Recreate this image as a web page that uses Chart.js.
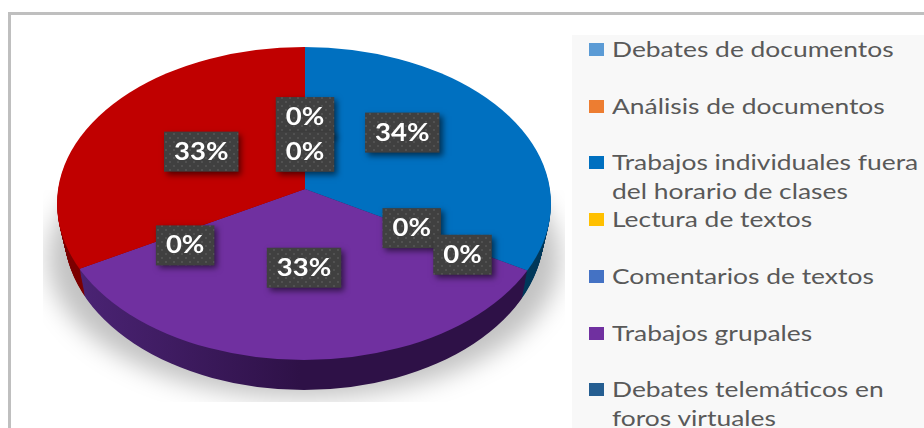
<!DOCTYPE html>
<html>
<head>
<meta charset="utf-8">
<style>
  html, body { margin: 0; padding: 0; background: #fff; width: 924px; height: 428px; overflow: hidden; }
  #frame { position: absolute; left: 8px; top: 12px; width: 1000px; height: 500px; border: 3px solid #bfbfbf; box-sizing: border-box; }
  #chart { position: absolute; left: 0; top: 0; }
  #legend { position: absolute; left: 572px; top: 35px; width: 352px; height: 393px; background: #f8f8f8; overflow: hidden;
            font-family: Lato, sans-serif; font-size: 22px; line-height: 29px; color: #595959; }
  .item { position: absolute; left: 17px; }
  .box { position: absolute; left: 0; top: 8px; width: 15px; height: 13px; }
  .txt { position: absolute; left: 23px; top: -1px; width: 262px; transform: scaleX(1.2); transform-origin: left top; }
</style>
</head>
<body>
<div id="frame"></div>
<canvas id="chart" width="924" height="428"></canvas>
<div id="legend"></div>
<script src="https://cdn.jsdelivr.net/npm/chart.js@4"></script>
<script>
// last category is cut off in the source image, only its red slice shows
const categories = [
    'Debates de documentos',
    'Análisis de documentos',
    'Trabajos individuales fuera del horario de clases',
    'Lectura de textos',
    'Comentarios de textos',
    'Trabajos grupales',
    'Debates telemáticos en foros virtuales',
    ''
];
const values = [0, 0, 33.5, 0, 0, 33.25, 0, 33.25];
const colors = ['#5b9bd5', '#ed7d31', '#0070c0', '#ffc000', '#4472c4', '#7030a0', '#255e91', '#c00000'];
const sideColors = ['#3a6a94', '#a4561f', '#003a5c', '#b08500', '#2f4f88', '#2e1147', '#163a5a', '#7d0000'];

// top face and rim of the tilted pie
const pie = { apexX: 305, apexY: 189, tilt: 0.62, zoom: 1.5,
              topCy: 203.5, topRx: 247, topRy: 156.5,
              baseCy: 232, baseRx: 240, baseRy: 158, depth: 29 };

// distance along the slice direction, plus small vertical nudge
const labelDist = [116, 60, 112, 124, 183, 127, 138, 120];
const labelNudge = [0, 0, -22, 0, 8, 0, 14, 0];

function placeFace(ctx, chart, t) {
    const arc = chart.getDatasetMeta(0).data[0];
    const rx = pie.topRx + (pie.baseRx - pie.topRx) * t;
    const ry = pie.topRy + (pie.baseRy - pie.topRy) * t;
    const cy = pie.topCy + (pie.baseCy - pie.topCy) * t;
    ctx.beginPath();
    ctx.ellipse(pie.apexX - 1, cy, rx, ry, 0, 0, Math.PI * 2);
    ctx.clip();
    ctx.translate(pie.apexX, pie.apexY + pie.depth * t);
    ctx.scale(pie.zoom, pie.zoom * pie.tilt);
    ctx.translate(-arc.x, -arc.y);
}

const tiltedPie = {
    id: 'tiltedPie',
    beforeDatasetDraw(chart) {
        const ctx = chart.ctx;
        const arcs = chart.getDatasetMeta(0).data;
        const cx = arcs[0].x;

        // soft shadow under the pie
        ctx.save();
        ctx.beginPath();
        ctx.rect(43, 190, 522, 212);
        ctx.clip();
        ctx.filter = 'blur(12px)';
        ctx.fillStyle = 'rgba(0,0,0,0.24)';
        ctx.beginPath();
        ctx.ellipse(304, 258, 256, 140, 0, 0, Math.PI * 2);
        ctx.fill();
        ctx.restore();

        // side wall, stacked from the bottom up
        for (let step = pie.depth; step > 0; step--) {
            ctx.save();
            placeFace(ctx, chart, step / pie.depth);
            const shade = ctx.createLinearGradient(cx + (60 - pie.apexX) / pie.zoom, 0, cx + (300 - pie.apexX) / pie.zoom, 0);
            shade.addColorStop(0, '#4d2578');
            shade.addColorStop(1, sideColors[5]);
            arcs.forEach((arc, i) => {
                const ghost = Object.create(arc);
                ghost.options = Object.assign({}, arc.options, { backgroundColor: i === 5 ? shade : sideColors[i] });
                ghost.draw(ctx);
            });
            ctx.restore();
        }

        ctx.save();
        placeFace(ctx, chart, 0);
    },
    afterDatasetDraw(chart) {
        chart.ctx.restore();
    },
    afterDraw(chart) {
        const ctx = chart.ctx;
        const arcs = chart.getDatasetMeta(0).data;
        const dots = dotPattern(ctx);
        const total = values.reduce((a, b) => a + b, 0);
        arcs.forEach((arc, i) => {
            const mid = (arc.startAngle + arc.endAngle) / 2;
            const x = pie.apexX + labelDist[i] * Math.cos(mid);
            const y = pie.apexY + labelDist[i] * Math.sin(mid) * pie.tilt + labelNudge[i];
            const text = Math.round(values[i] / total * 100) + '%';
            ctx.save();
            ctx.font = 'bold 25px Lato, sans-serif';
            const w = ctx.measureText(text).width * 1.1 + 20;
            const h = 40;
            ctx.shadowColor = 'rgba(0,0,0,0.55)';
            ctx.shadowBlur = 6;
            ctx.shadowOffsetX = 3;
            ctx.shadowOffsetY = 3;
            ctx.fillStyle = '#404040';
            ctx.fillRect(x - w / 2, y - h / 2, w, h);
            ctx.shadowColor = 'transparent';
            ctx.fillStyle = dots;
            ctx.fillRect(x - w / 2, y - h / 2, w, h);
            ctx.translate(x, y);
            ctx.scale(1.1, 1);
            ctx.fillStyle = '#fff';
            ctx.textAlign = 'center';
            ctx.textBaseline = 'middle';
            ctx.fillText(text, 0, 0);
            ctx.restore();
        });
    }
};

function dotPattern(ctx) {
    const tile = document.createElement('canvas');
    tile.width = 8;
    tile.height = 8;
    const t = tile.getContext('2d');
    t.fillStyle = 'rgba(255,255,255,0.09)';
    t.fillRect(1, 1, 2, 2);
    t.fillRect(5, 5, 2, 2);
    return ctx.createPattern(tile, 'repeat');
}

// legend keeps a fixed pitch even when a label wraps, so it is built by hand
function buildLegend() {
    const legend = document.getElementById('legend');
    categories.forEach((name, i) => {
        if (!name) return;
        const item = document.createElement('div');
        item.className = 'item';
        item.style.top = Math.round(i * 56.7) + 'px';
        const box = document.createElement('div');
        box.className = 'box';
        box.style.background = colors[i];
        const txt = document.createElement('div');
        txt.className = 'txt';
        txt.textContent = name;
        item.appendChild(box);
        item.appendChild(txt);
        legend.appendChild(item);
    });
}

new Chart(document.getElementById('chart').getContext('2d'), {
    type: 'pie',
    data: {
        labels: categories,
        datasets: [{ data: values, backgroundColor: colors, borderWidth: 0 }]
    },
    options: {
        responsive: false,
        animation: false,
        plugins: { legend: { display: false }, tooltip: { enabled: false } }
    },
    plugins: [tiltedPie]
});
buildLegend();
</script>
</body>
</html>
